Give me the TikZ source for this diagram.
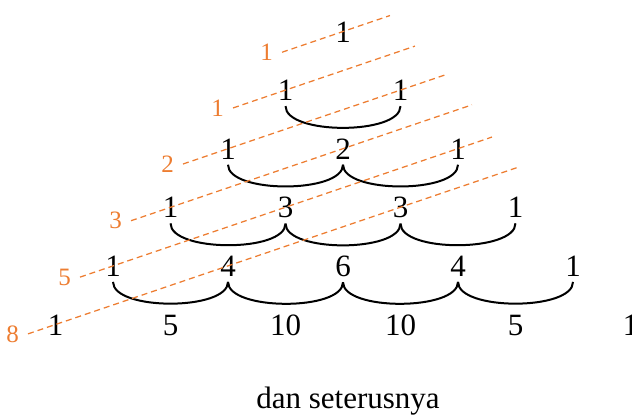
\documentclass[tikz,border=0pt]{standalone}
\usepackage{fontspec}
\setmainfont{Liberation Serif}
\definecolor{fibOrange}{RGB}{237, 125, 49}
\usetikzlibrary{calc}

\begin{document}
\begin{tikzpicture}[
    x=0.4pt, y=-0.4pt,
    entry/.style={anchor=base, inner sep=2pt, font=\fontsize{12.4}{14}\selectfont},
    fibLabel/.style={anchor=east, inner xsep=3.5pt, inner ysep=1pt, text=fibOrange,
                     font=\fontsize{10}{12}\selectfont},
    fibLine/.style={fibOrange, line width=0.5pt, dash pattern=on 2.4pt off 1.6pt},
    arc/.style={line width=0.8pt, black},
  ]
    \useasboundingbox (0,0) rectangle (632,416);

    % Pascal rows
    \foreach \k/\vals in {0/{1}, 1/{1,1}, 2/{1,2,1}, 3/{1,3,3,1}, 4/{1,4,6,4,1}, 5/{1,5,10,10,5,1}} {
      \foreach \v [count=\j from 0] in \vals {
        \node[entry] (n\k\j) at ({343-57.5*\k+115*\j}, {42+58.6*\k}) {\v};
      }
    }

    % Arcs below each row
    \foreach \k in {1,...,4} {
      \pgfmathtruncatemacro\last{\k-1}
      \foreach \j in {0,...,\last} {
        \pgfmathtruncatemacro\jj{\j+1}
        \draw[arc] (n\k\j.south) .. controls +(0,29) and +(0,29) .. (n\k\jj.south);
      }
    }

    % Shallow diagonals
    \foreach \m/\xs/\xe/\lab in {0/282/390/1, 1/233/415/1, 2/183/445/2, 3/131/472/3, 4/80/492/5, 5/28/520/8} {
      \pgfmathsetmacro\px{343-57.5*\m}
      \pgfmathsetmacro\py{31.5+58.6*\m}
      \coordinate (s\m) at (\xs, {\py+0.34*(\px-\xs)});
      \coordinate (e\m) at (\xe, {\py+0.34*(\px-\xe)});
      \node[fibLabel] (f\m) at (s\m) {\lab};
      \draw[fibLine] (f\m.east) -- (e\m);
    }

    \node[entry] (caption) at (348,408) {dan seterusnya};
  \end{tikzpicture}
\end{document}
